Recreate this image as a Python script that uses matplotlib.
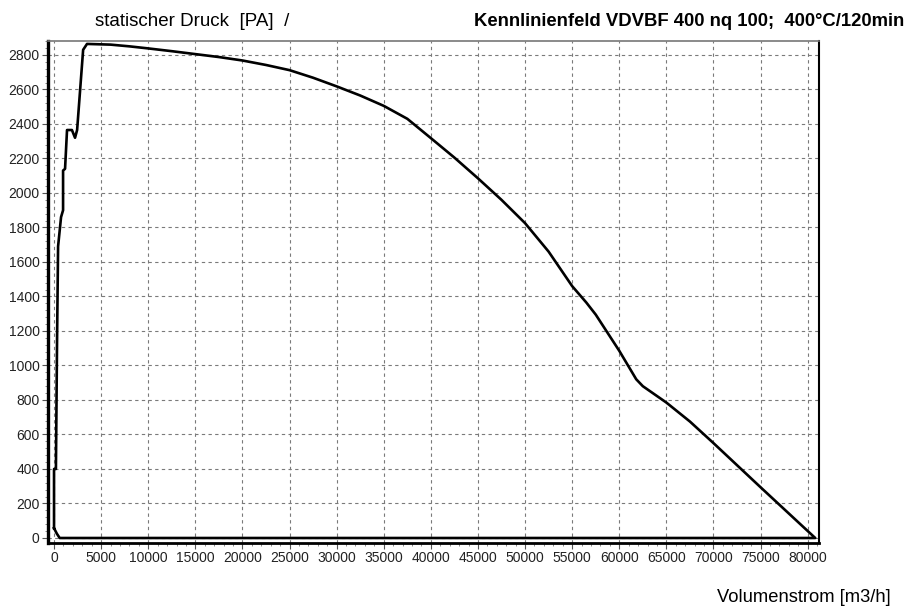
import matplotlib.pyplot as plt
from matplotlib.ticker import AutoMinorLocator

plt.rcParams['font.family'] = ['Liberation Sans', 'DejaVu Sans']

# Kennlinie (Volumenstrom m3/h, statischer Druck Pa)
flow = [0, 0, 200, 320, 430, 745, 960, 960, 1170, 1380, 1900, 2230, 2450, 3090, 3500,
        6000, 8000, 10000, 12500, 15000, 17500, 20000, 22500, 25000, 27500, 30000,
        32500, 35000, 37500, 40000, 42500, 45000, 47500, 50000, 52500, 55000,
        56500, 57500, 60000, 61800, 62500, 65000, 67500, 70000, 75000, 80800, 600, 300, 0]
pressure = [57, 400, 400, 1140, 1690, 1860, 1900, 2130, 2140, 2365, 2365, 2320, 2365, 2830, 2864,
            2860, 2850, 2838, 2822, 2805, 2788, 2768, 2742, 2712, 2668, 2618,
            2565, 2505, 2430, 2318, 2205, 2085, 1960, 1825, 1660, 1460,
            1365, 1295, 1085, 920, 880, 785, 675, 550, 294, 0, 0, 25, 57]

x_ticks = list(range(0, 80001, 5000))
y_ticks = list(range(0, 2801, 200))

fig = plt.figure(figsize=(9.08, 6.10), dpi=100)
ax = fig.add_axes([48 / 908, 1 - 543 / 610, (819 - 48) / 908, (543 - 41) / 610])

ax.plot(flow, pressure, color='black', linewidth=1.9)

ax.set_xlim(-640, 81200)
ax.set_ylim(-29, 2881)
ax.set_xticks(x_ticks)
ax.set_yticks(y_ticks)
ax.xaxis.set_minor_locator(AutoMinorLocator(5))
ax.yaxis.set_minor_locator(AutoMinorLocator(5))
ax.tick_params(which='major', length=4, width=0.8, color='#555555', labelsize=10, labelcolor='#222222', pad=2)
ax.tick_params(which='minor', length=2, width=0.6, color='#777777')

ax.grid(True, which='major', color='#7a7a7a', linestyle=(0, (3, 3)), linewidth=0.8)

ax.spines['top'].set_color('#777777')
ax.spines['top'].set_linewidth(1.2)
ax.spines['right'].set_linewidth(1.5)
ax.spines['left'].set_linewidth(2.4)
ax.spines['bottom'].set_linewidth(2.0)

fig.text(95 / 908, 1 - 21 / 610, 'statischer Druck  [PA]  /', fontsize=13.5, va='center', ha='left')
fig.text(904 / 908, 1 - 21 / 610, 'Kennlinienfeld VDVBF 400 nq 100;  400°C/120min',
         fontsize=13.3, fontweight='bold', va='center', ha='right')
fig.text(891 / 908, 1 - 598 / 610, 'Volumenstrom [m3/h]', fontsize=13.2, va='center', ha='right')

fig.savefig('out.png', dpi=100)
